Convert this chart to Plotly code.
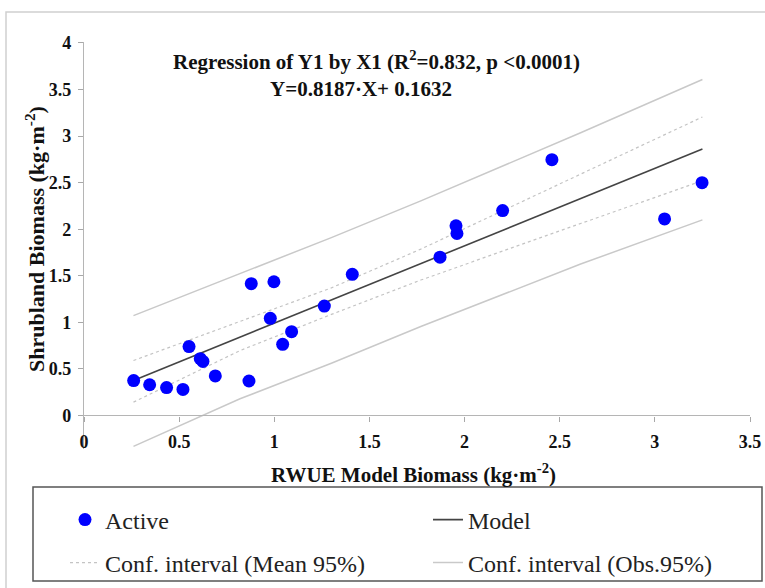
import plotly.graph_objects as go

# ---- data ----
rwue_model = [0.261, 0.345, 0.434, 0.520, 0.552, 0.611, 0.625, 0.690, 0.867, 0.879,
              0.979, 0.998, 1.044, 1.091, 1.263, 1.410, 1.871, 1.955, 1.960, 2.200,
              2.459, 3.051, 3.248]
shrub_obs = [0.375, 0.330, 0.300, 0.280, 0.740, 0.610, 0.580, 0.425, 0.370, 1.415,
             1.043, 1.436, 0.764, 0.900, 1.175, 1.515, 1.700, 2.036, 1.954, 2.200,
             2.747, 2.110, 2.500]

model_x = [0.26, 3.25]
model_y = [0.376, 2.86]

ci_x = [0.26, 0.82, 1.30, 1.77, 2.61, 3.25]
mean_upper = [0.590, 1.010, 1.370, 1.786, 2.590, 3.205]
mean_lower = [0.143, 0.697, 1.085, 1.454, 2.061, 2.520]
obs_upper = [1.072, 1.519, 1.910, 2.304, 3.036, 3.608]
obs_lower = [-0.332, 0.179, 0.560, 0.955, 1.626, 2.100]

x_ticks = [0, 0.5, 1, 1.5, 2, 2.5, 3, 3.5]
y_ticks = [0, 0.5, 1, 1.5, 2, 2.5, 3, 3.5, 4]

FONT = "Liberation Serif, Times New Roman, serif"
W, H = 765, 588
ML, MR, MT, MB = 84, 15, 42, 139
PW, PH = W - ML - MR, H - MT - MB
Y0, Y1 = -0.36, 4.01


def px(xp):
    return (xp - ML) / PW


def py(yp):
    return (H - MB - yp) / PH


def cx(xp):
    return xp / W


def cy(yp):
    return 1 - yp / H


fig = go.Figure()

fig.add_trace(go.Scatter(x=ci_x, y=obs_upper, mode="lines", name="Conf. interval (Obs.95%)",
                         line=dict(color="#c9c9c9", width=1.5), legend="legend4"))
fig.add_trace(go.Scatter(x=ci_x, y=obs_lower, mode="lines", showlegend=False,
                         line=dict(color="#c9c9c9", width=1.5), legend="legend4"))
fig.add_trace(go.Scatter(x=ci_x, y=mean_upper, mode="lines", name="Conf. interval (Mean 95%)",
                         line=dict(color="#c4c4c4", width=1.2, dash="dot"), legend="legend3"))
fig.add_trace(go.Scatter(x=ci_x, y=mean_lower, mode="lines", showlegend=False,
                         line=dict(color="#c4c4c4", width=1.2, dash="dot"), legend="legend3"))
fig.add_trace(go.Scatter(x=model_x, y=model_y, mode="lines", name="Model",
                         line=dict(color="#444444", width=1.6), legend="legend2"))
fig.add_trace(go.Scatter(x=rwue_model, y=shrub_obs, mode="markers", name="Active",
                         marker=dict(color="#0000ff", size=13), legend="legend"))

tickfont = dict(family=FONT, size=18, color="#111", weight="bold")
axis_common = dict(showgrid=False, zeroline=False, showline=True, linecolor="#b5b5b5",
                   linewidth=1.2, ticks="outside", ticklen=5, tickcolor="#a8a8a8",
                   tickwidth=1.2, tickfont=tickfont)

legfont = dict(family=FONT, size=24, color="#222")


def leg(text_x, row_y):
    return dict(xref="container", yref="container", x=cx(text_x - 40), y=cy(row_y),
                xanchor="left", yanchor="middle", orientation="v",
                font=legfont, bgcolor="rgba(0,0,0,0)", borderwidth=0)


fig.update_layout(
    width=W, height=H, margin=dict(l=ML, r=MR, t=MT, b=MB, autoexpand=False),
    paper_bgcolor="white", plot_bgcolor="white",
    font=dict(family=FONT, color="#111"),
    xaxis=dict(range=[0, 3.5], tickvals=x_ticks, ticktext=[f"{v:g}" for v in x_ticks],
               anchor="free", position=(0 - Y0) / (Y1 - Y0), ticklabelstandoff=5,
               **axis_common),
    yaxis=dict(range=[Y0, Y1], tickvals=y_ticks, ticktext=[f"{v:g}" for v in y_ticks],
               ticklabelstandoff=3, **axis_common),
    legend=leg(105, 520),
    legend2=leg(468, 520),
    legend3=leg(105, 563),
    legend4=leg(468, 563),
    showlegend=True,
)

# legend box and outer frame
fig.add_shape(type="rect", xref="paper", yref="paper", x0=px(33), x1=px(762),
              y0=py(581), y1=py(487), line=dict(color="#555555", width=1.5))
fig.add_shape(type="rect", xref="paper", yref="paper", x0=px(6), x1=px(770),
              y0=py(600), y1=py(12), line=dict(color="#d0d0d0", width=1.5))

# titles and regression text
ann = dict(xref="paper", yref="paper", showarrow=False, xanchor="center", yanchor="middle")
fig.add_annotation(text="<b>RWUE Model Biomass (kg·m<sup>-2</sup>)</b>",
                   x=px(413), y=py(473), font=dict(family=FONT, size=21, color="#111"), **ann)
fig.add_annotation(text="<b>Shrubland Biomass (kg·m<sup>-2</sup>)</b>",
                   x=px(35), y=py(239), textangle=-90,
                   font=dict(family=FONT, size=22, color="#111"), **ann)
fig.add_annotation(text="<b>Regression of Y1 by X1 (R<sup>2</sup>=0.832, p <0.0001)</b>",
                   x=px(376), y=py(60), font=dict(family=FONT, size=21, color="#111"), **ann)
fig.add_annotation(text="<b>Y=0.8187·X+ 0.1632</b>",
                   x=px(361), y=py(89), font=dict(family=FONT, size=21, color="#111"), **ann)

fig.write_html("out.html")
